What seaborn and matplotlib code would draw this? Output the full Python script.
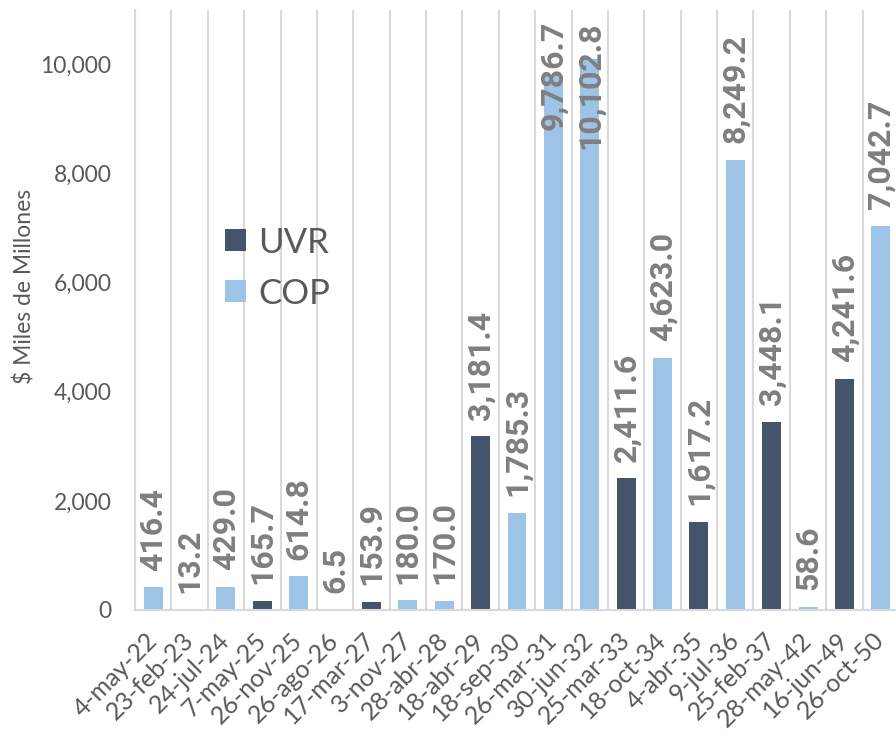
import matplotlib
matplotlib.use('Agg')
import matplotlib.pyplot as plt
import seaborn as sns
import pandas as pd
import numpy as np
from matplotlib.ticker import FuncFormatter, FixedLocator

# Vencimientos y montos ($ miles de millones)
fechas = ['4-may-22', '23-feb-23', '24-jul-24', '7-may-25', '26-nov-25', '26-ago-26',
          '17-mar-27', '3-nov-27', '28-abr-28', '18-abr-29', '18-sep-30', '26-mar-31',
          '30-jun-32', '25-mar-33', '18-oct-34', '4-abr-35', '9-jul-36', '25-feb-37',
          '28-may-42', '16-jun-49', '26-oct-50']
montos = [416.4, 13.2, 429.0, 165.7, 614.8, 6.5, 153.9, 180.0, 170.0, 3181.4, 1785.3,
          9786.7, 10102.8, 2411.6, 4623.0, 1617.2, 8249.2, 3448.1, 58.6, 4241.6, 7042.7]
tipo = ['COP', 'UVR', 'COP', 'UVR', 'COP', 'COP', 'UVR', 'COP', 'COP', 'UVR', 'COP',
        'COP', 'COP', 'UVR', 'COP', 'UVR', 'COP', 'UVR', 'COP', 'UVR', 'COP']
series = ['UVR', 'COP']
colores = {'UVR': '#44546A', 'COP': '#9DC3E6'}

sns.set_style('white')
plt.rcParams['font.family'] = ['Lato', 'DejaVu Sans']

df = pd.DataFrame({'fecha': fechas, 'monto': montos, 'tipo': tipo})

fig = plt.figure(figsize=(8.96, 7.38), dpi=100)
ax = fig.add_axes([135 / 896, 128 / 738, 764 / 896, 600 / 738])

sns.barplot(data=df, x='fecha', y='monto', hue='tipo', hue_order=series,
            palette=colores, dodge=False, width=0.52, saturation=1, ax=ax,
            edgecolor='none', order=fechas)

ymax = 11000
ax.set_xlim(-0.5, len(fechas) - 0.5)
ax.set_ylim(0, ymax)

# etiquetas de datos
lbl = dict(rotation=90, ha='center', fontsize=23, fontweight='bold',
           color='#7F7F7F', family=['Roboto', 'DejaVu Sans'],
           textcoords='offset points')
for i, v in enumerate(montos):
    txt = f'{v:,.1f}'
    if v > 9000:
        ax.annotate(txt, (i, ymax), xytext=(0, -8), va='top', **lbl)
    else:
        ax.annotate(txt, (i, v), xytext=(0, 12), va='bottom', **lbl)

# lineas verticales entre categorias
ax.xaxis.set_minor_locator(FixedLocator(np.arange(-0.5, len(fechas), 1)))
ax.grid(which='minor', axis='x', color='#D9D9D9', linewidth=1.5)
ax.grid(which='major', axis='both', visible=False)
ax.tick_params(axis='x', which='both', length=0)
ax.tick_params(axis='x', which='major', pad=19, labelsize=18, labelcolor='#595959')
ax.set_xticks(range(len(fechas)))
ax.set_xticklabels(fechas, rotation=45, ha='right', va='center', rotation_mode='anchor')

ax.set_yticks(range(0, 10001, 2000))
ax.yaxis.set_major_formatter(FuncFormatter(lambda y, p: f'{int(y):,}'))
ax.tick_params(axis='y', length=6, width=1.5, color='#D9D9D9', pad=11,
               labelsize=16.5, labelcolor='#595959')

for s in ['top', 'right']:
    ax.spines[s].set_visible(False)
for s in ['left', 'bottom']:
    ax.spines[s].set_color('#D9D9D9')
    ax.spines[s].set_linewidth(1.5)

ax.set_xlabel('')
ax.set_ylabel('$ Miles de Millones', fontsize=16.5, color='#595959')
ax.yaxis.set_label_coords(-0.13, 0.54)

ax.legend(loc='upper left', bbox_to_anchor=(0.095, 0.668), frameon=False,
          fontsize=25, handlelength=0.6, handleheight=0.6, handletextpad=0.35,
          labelspacing=0.55, borderpad=0, labelcolor='#595959')

fig.savefig('out.png', dpi=100)
